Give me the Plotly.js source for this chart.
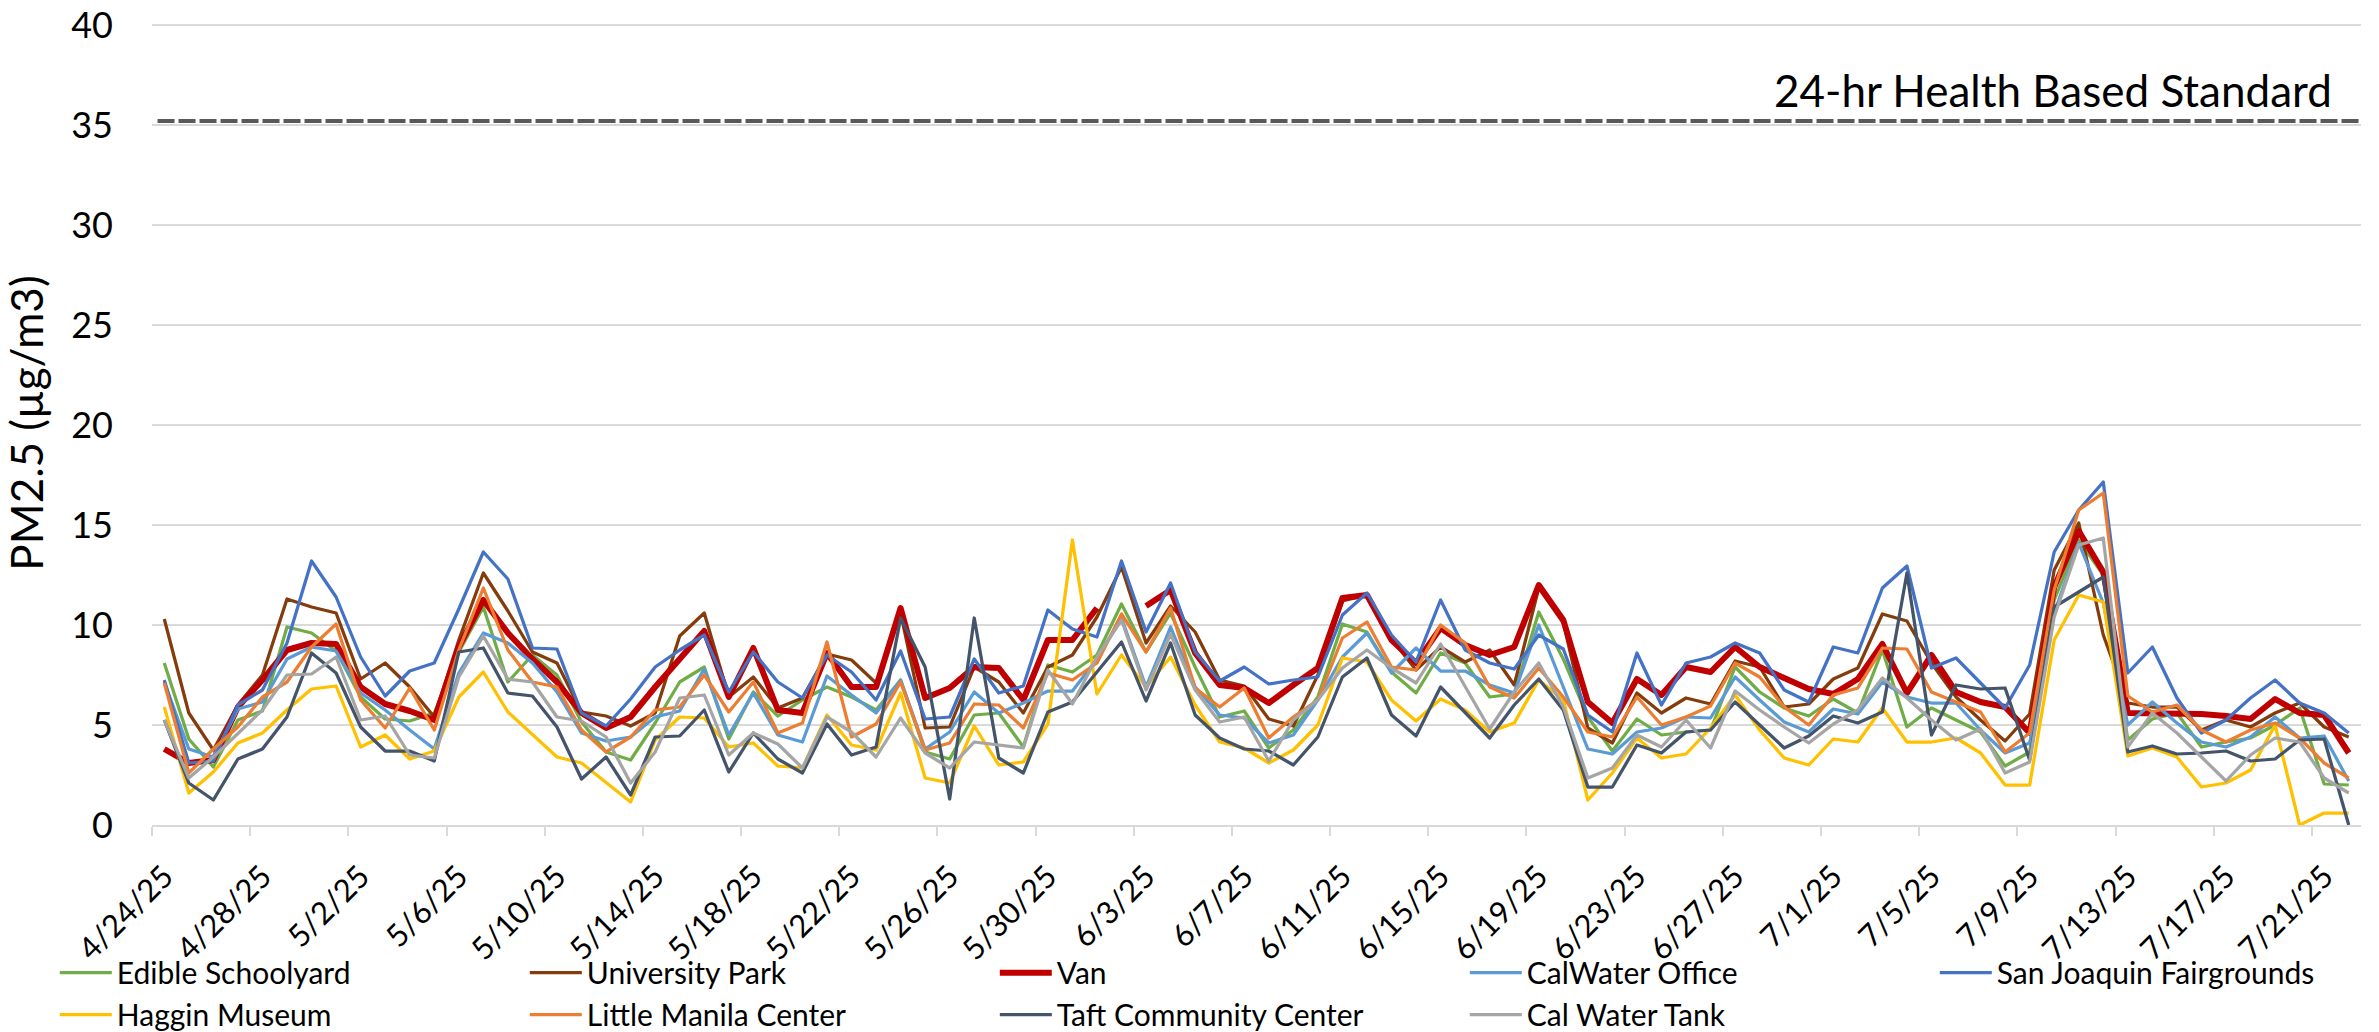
<!DOCTYPE html>
<html><head><meta charset="utf-8">
<script src="https://cdn.plot.ly/plotly-3.0.1.min.js"></script>
<style>
html,body{margin:0;padding:0;background:#fff;}
#chart{width:2379px;height:1032px;}
.scatterlayer .js-line{stroke-linejoin:round;}
</style></head>
<body><div id="chart"></div>
<script>
const dates = ["4/24/25","4/25/25","4/26/25","4/27/25","4/28/25","4/29/25","4/30/25",
"5/1/25","5/2/25","5/3/25","5/4/25","5/5/25","5/6/25","5/7/25","5/8/25","5/9/25","5/10/25",
"5/11/25","5/12/25","5/13/25","5/14/25","5/15/25","5/16/25","5/17/25","5/18/25","5/19/25","5/20/25",
"5/21/25","5/22/25","5/23/25","5/24/25","5/25/25","5/26/25","5/27/25","5/28/25","5/29/25","5/30/25","5/31/25",
"6/1/25","6/2/25","6/3/25","6/4/25","6/5/25","6/6/25","6/7/25","6/8/25","6/9/25","6/10/25",
"6/11/25","6/12/25","6/13/25","6/14/25","6/15/25","6/16/25","6/17/25","6/18/25","6/19/25","6/20/25",
"6/21/25","6/22/25","6/23/25","6/24/25","6/25/25","6/26/25","6/27/25","6/28/25","6/29/25","6/30/25",
"7/1/25","7/2/25","7/3/25","7/4/25","7/5/25","7/6/25","7/7/25","7/8/25","7/9/25","7/10/25",
"7/11/25","7/12/25","7/13/25","7/14/25","7/15/25","7/16/25","7/17/25","7/18/25","7/19/25","7/20/25",
"7/21/25","7/22/25"];

const edibleSchoolyard = [8.1,4.3,2.9,5.25,5.7,9.9,9.6,8.7,6.4,5.3,
5.2,5.6,8.65,10.9,7.15,8.5,7.5,5.15,3.65,3.25,
5.1,7.15,7.9,4.3,6.65,5.45,6.25,6.9,6.4,5.75,
7.25,3.65,3.3,5.5,5.6,3.9,8.0,7.65,8.5,11.05,
8.65,10.6,7.9,5.4,5.7,3.85,4.75,6.4,10.05,9.65,
7.65,6.6,8.6,8.1,6.4,6.55,10.65,8.3,5.4,3.7,
5.3,4.5,4.65,4.75,7.9,6.65,5.85,5.45,6.3,5.6,
8.75,4.9,5.85,5.25,4.65,2.95,3.65,11.25,14.25,12.5,
4.25,5.3,5.6,3.9,4.15,4.35,5.0,5.85,2.05,2.0];

const universityPark = [10.3,5.6,3.75,6.0,7.5,11.3,10.9,10.6,7.3,8.1,
6.9,5.4,9.25,12.6,10.7,8.65,8.1,5.65,5.45,4.95,
5.6,9.45,10.6,6.4,7.4,5.85,6.35,8.55,8.25,7.1,
10.6,4.85,4.9,7.9,7.15,5.6,7.9,8.5,10.4,12.9,
9.1,10.95,9.65,7.25,6.95,5.3,4.95,7.5,11.2,11.5,
9.3,7.75,8.9,8.15,8.75,7.0,11.85,10.1,4.85,4.1,
6.6,5.6,6.35,6.05,8.2,7.9,5.9,6.05,7.3,7.85,
10.55,10.2,8.1,6.4,5.25,4.2,5.55,12.75,15.1,9.5,
6.1,5.9,5.9,4.75,5.25,4.9,5.6,6.1,4.9,4.4];

const van = [3.8,3.1,3.25,5.9,7.25,8.75,9.1,9.05,6.9,6.05,
5.7,5.25,8.9,11.25,9.6,8.3,7.15,5.6,4.85,5.4,
6.9,8.25,9.7,6.4,8.85,5.75,5.6,8.6,6.9,6.9,
10.85,6.35,6.85,7.9,7.85,6.25,9.25,9.25,10.85,null,
10.95,11.75,8.6,7.0,6.85,6.1,7.0,7.85,11.35,11.5,
9.25,8.1,9.85,9.0,8.5,8.9,12.0,10.25,6.15,5.1,
7.3,6.5,7.9,7.65,8.9,7.9,7.35,6.8,6.55,7.3,
9.05,6.6,8.5,6.65,6.15,5.9,4.6,11.9,14.7,12.65,
5.6,5.6,5.6,5.55,5.45,5.3,6.3,5.6,5.5,3.6];

const calWaterOffice = [7.15,3.8,3.4,5.8,6.15,8.3,8.9,8.7,6.6,5.75,
4.75,3.8,7.6,9.6,9.1,8.1,6.65,4.6,4.2,4.4,
5.4,5.7,7.8,4.5,6.6,4.5,4.15,7.45,6.5,5.6,
7.25,3.8,4.65,6.65,5.6,6.1,6.7,6.7,8.3,10.35,
6.9,9.9,6.9,5.5,5.35,4.1,4.5,6.25,8.4,9.6,
7.6,8.85,7.7,7.7,7.0,6.6,10.0,6.9,3.8,3.55,
4.65,4.85,5.4,5.35,7.4,6.25,5.15,4.65,5.8,5.55,
7.15,6.4,6.1,6.1,4.75,3.6,4.1,10.6,14.1,11.1,
5.0,6.15,5.1,4.15,3.9,4.4,5.4,4.35,4.45,2.2];

const sjFairgrounds = [7.25,3.1,3.2,6.0,6.75,9.1,13.2,11.4,8.4,6.45,
7.7,8.1,10.8,13.65,12.3,8.85,8.8,5.6,4.95,6.3,
7.9,8.75,9.5,6.65,8.65,7.15,6.35,8.5,7.65,6.25,
8.7,5.3,5.4,8.3,6.6,6.95,10.75,9.8,9.4,13.2,
9.65,12.1,8.65,7.2,7.9,7.05,7.25,7.4,10.5,11.6,
9.5,8.15,11.25,8.75,8.1,7.8,9.5,8.8,5.5,4.65,
8.6,6.0,8.1,8.4,9.1,8.6,6.75,6.15,8.9,8.6,
11.85,12.95,7.85,8.35,7.1,5.85,8.0,13.65,15.75,17.15,
7.6,8.9,6.35,4.6,5.25,6.35,7.25,6.1,5.6,4.6];

const hagginMuseum = [5.9,1.6,2.65,4.1,4.6,5.75,6.8,6.95,3.9,4.5,
3.3,3.7,6.4,7.65,5.65,4.5,3.4,3.1,2.1,1.15,
4.25,5.4,5.35,3.9,4.1,2.95,2.85,5.5,4.0,3.75,
6.6,2.35,2.1,4.95,3.0,3.15,5.05,14.25,6.55,8.5,
6.9,8.4,6.0,4.15,3.85,3.1,3.75,5.0,8.35,8.15,
6.25,5.2,6.3,5.75,4.65,5.1,7.25,6.25,1.25,2.6,
4.35,3.35,3.55,4.85,6.5,4.75,3.35,3.0,4.3,4.15,
5.85,4.15,4.15,4.35,3.6,2.0,2.0,9.25,11.5,11.15,
3.45,3.85,3.4,1.9,2.1,2.75,5.0,0,0.6,0.6];

const littleManila = [7.1,2.6,3.8,4.9,6.4,7.15,8.9,10.05,6.25,4.85,
6.85,4.75,8.75,11.85,8.75,7.15,6.9,4.75,3.65,4.4,
5.75,5.9,7.5,5.65,7.15,4.6,5.1,9.15,4.4,5.05,
7.15,3.75,4.1,6.05,6.0,4.85,7.6,7.25,8.1,10.55,
8.65,10.85,6.85,5.9,6.85,4.35,5.4,6.25,9.35,10.15,
7.9,7.75,10.0,9.1,6.9,6.35,7.85,6.4,4.65,4.4,
6.4,5.0,5.4,5.95,8.1,7.4,5.9,5.0,6.5,6.85,
8.85,8.8,6.65,6.15,5.65,3.65,4.6,11.75,15.75,16.6,
6.45,5.65,6.0,4.75,4.15,4.75,5.1,4.35,3.1,2.35];

const taftCenter = [5.25,2.1,1.25,3.3,3.8,5.4,8.6,7.6,4.9,3.7,
3.7,3.2,8.65,8.85,6.6,6.45,4.9,2.3,3.4,1.5,
4.4,4.45,5.75,2.65,4.6,3.3,2.6,5.05,3.5,3.9,
10.35,7.9,1.3,10.35,3.35,2.6,5.65,6.15,7.65,9.15,
6.2,9.1,5.5,4.35,3.8,3.7,3.0,4.4,7.4,8.35,
5.5,4.45,6.9,5.65,4.35,6.0,7.3,5.75,1.9,1.9,
4.0,3.6,4.65,4.75,6.15,5.0,3.85,4.45,5.45,5.1,
5.65,12.6,4.5,7.0,6.8,6.85,3.25,10.9,11.65,12.4,
3.65,3.95,3.55,3.6,3.7,3.2,3.3,4.25,4.3,0];

const calWaterTank = [5.25,2.35,3.4,4.6,5.75,7.5,7.55,8.4,5.25,5.45,
3.5,3.35,7.4,9.45,7.3,7.15,5.4,5.2,4.4,2.1,
3.65,6.35,6.5,3.5,4.6,4.05,2.85,5.4,4.65,3.4,
5.35,3.6,2.85,4.15,4.0,3.85,7.75,6.05,8.4,10.25,
6.75,9.55,6.75,5.15,5.4,3.2,5.25,6.25,7.85,8.75,
7.85,7.1,9.05,6.9,4.8,6.65,8.1,5.9,2.35,2.85,
4.5,3.9,5.25,3.85,6.7,5.75,4.9,4.1,5.05,5.75,
7.35,6.35,5.25,4.25,4.8,2.6,3.15,10.4,14.0,14.35,
3.9,5.6,4.6,3.4,2.2,3.5,4.35,4.15,2.35,1.6];

const seriesNames = ["Edible Schoolyard","University Park","Van","CalWater Office","San Joaquin Fairgrounds",
  "Haggin Museum","Little Manila Center","Taft Community Center","Cal Water Tank"];
const seriesValues = [edibleSchoolyard, universityPark, van, calWaterOffice, sjFairgrounds,
  hagginMuseum, littleManila, taftCenter, calWaterTank];
const seriesColors = ["#70AD47","#843C0C","#C00000","#5B9BD5","#4472C4","#FFC000","#ED7D31","#44546A","#A5A5A5"];
const seriesWidths = [3.25,3.25,6,3.25,3.25,3.25,3.25,3.25,3.25];

const standardValue = 35.2;
const standardLabel = "24-hr Health Based Standard";
const yTickVals = [0,5,10,15,20,25,30,35,40];
const yTitle = "PM2.5 (µg/m3)";

const FONT = "Lato, 'Open Sans', sans-serif";

const traces = seriesNames.map((name, k) => ({
  type: "scatter", mode: "lines", name: name,
  x: dates, y: seriesValues[k],
  line: {color: seriesColors[k], width: seriesWidths[k]},
  connectgaps: false, hoverinfo: "skip"
}));

const layout = {
  width: 2379, height: 1032,
  margin: {l: 152, r: 18, t: 21.3, b: 207, autoexpand: false},
  paper_bgcolor: "#ffffff", plot_bgcolor: "#ffffff",
  font: {family: FONT, color: "#000000"},
  showlegend: true,
  xaxis: {
    type: "category", range: [-0.5, 89.5], autorange: false, automargin: false,
    tickmode: "linear", tick0: 0, dtick: 4, tickson: "boundaries",
    ticks: "outside", ticklen: 9, tickwidth: 2, tickcolor: "#D9D9D9",
    showline: true, linecolor: "#D9D9D9", linewidth: 2,
    showgrid: false, zeroline: false,
    ticklabelstandoff: 19, ticklabeloverflow: "allow",
    tickangle: -45, tickfont: {family: FONT, size: 31, color: "#000000"}
  },
  yaxis: {
    range: [0, 40.2], autorange: false, automargin: false, tickmode: "array", tickvals: yTickVals,
    showgrid: true, gridcolor: "#D9D9D9", gridwidth: 2,
    zeroline: false, showline: false, ticks: "",
    ticklabelstandoff: 38, ticklabeloverflow: "allow",
    tickfont: {family: FONT, size: 36, color: "#000000"},
    title: {text: yTitle, font: {family: FONT, size: 44, color: "#000000"}, standoff: 14}
  },
  legend: {
    orientation: "h", x: -0.044, xanchor: "left", y: -0.1513, yanchor: "top",
    font: {family: FONT, size: 30, color: "#000000"},
    entrywidth: 403, entrywidthmode: "pixels", itemwidth: 52,
    bgcolor: "rgba(0,0,0,0)", traceorder: "normal"
  },
  shapes: [{
    type: "line", xref: "paper", x0: 0.0025, x1: 1, yref: "y", y0: standardValue, y1: standardValue,
    line: {color: "#595959", width: 4, dash: "17px,4px"}
  }],
  annotations: [{
    xref: "paper", x: 0.9878, xanchor: "right", yref: "y", y: 36.75, yanchor: "middle",
    text: standardLabel, showarrow: false,
    font: {family: FONT, size: 44, color: "#000000"}
  }]
};

Plotly.newPlot("chart", traces, layout, {staticPlot: true, displayModeBar: false});
</script>
</body></html>
